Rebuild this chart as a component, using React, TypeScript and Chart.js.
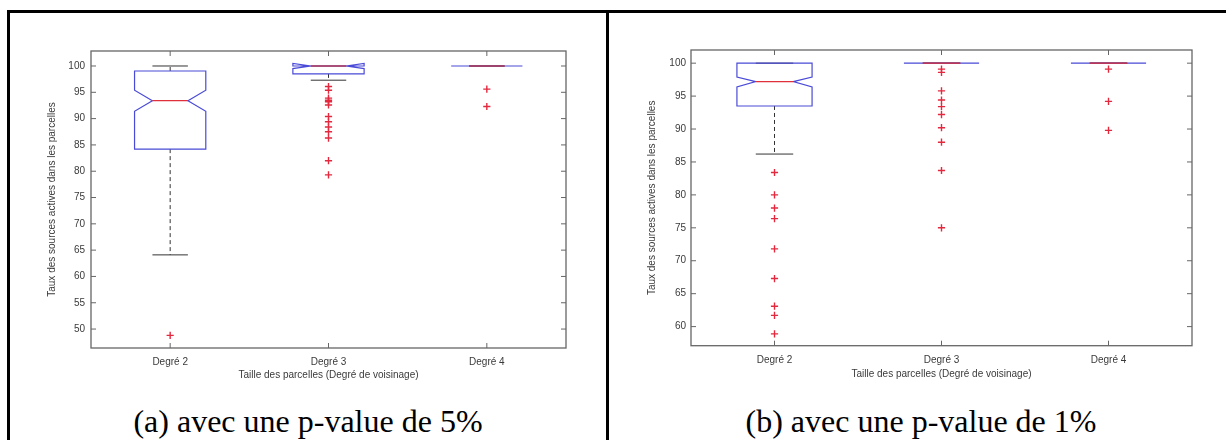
import React, { useEffect, useRef } from 'react';
import { Chart, registerables } from 'chart.js';

Chart.register(...registerables);

// ---------- data ----------
const CATEGORIES = ['Degré 2', 'Degré 3', 'Degré 4'];
const X_TICKS = [1, 2, 3];
const X_TITLE = 'Taille des parcelles (Degré de voisinage)';
const Y_TITLE = 'Taux des sources actives dans les parcelles';

const Y_TICKS_A = [50, 55, 60, 65, 70, 75, 80, 85, 90, 95, 100];
const Y_MIN_A = 46.4;
const Y_MAX_A = 102.85;

const A_Q1 = [84.2, 98.5, 100];
const A_MEDIAN = [93.4, 100, 100];
const A_Q3 = [99.05, 100, 100];
const A_WHISKER_LOW = [64.1, 97.3, 100];
const A_WHISKER_HIGH = [100, 100, 100];
const A_NOTCH_LOW = [91.4, 99.5, 100];
const A_NOTCH_HIGH = [95.4, 100.5, 100];
const A_OUTLIERS_D2 = [48.8];
const A_OUTLIERS_D3 = [96.1, 95.4, 93.9, 93.5, 93.2, 92.6, 90.4, 89.4, 88.4, 87.5, 86.3, 82.0, 79.3];
const A_OUTLIERS_D4 = [95.6, 92.3];
const A_CAPTION = '(a) avec une p-value de 5%';

const Y_TICKS_B = [60, 65, 70, 75, 80, 85, 90, 95, 100];
const Y_MIN_B = 57.1;
const Y_MAX_B = 102.0;

const B_Q1 = [93.5, 100, 100];
const B_MEDIAN = [97.2, 100, 100];
const B_Q3 = [100, 100, 100];
const B_WHISKER_LOW = [86.2, 100, 100];
const B_WHISKER_HIGH = [100, 100, 100];
const B_NOTCH_LOW = [96.4, 100, 100];
const B_NOTCH_HIGH = [97.9, 100, 100];
const B_OUTLIERS_D2 = [83.4, 80.0, 78.0, 76.4, 71.8, 67.3, 63.1, 61.7, 58.9];
const B_OUTLIERS_D3 = [99.1, 98.6, 95.8, 94.4, 93.4, 92.2, 90.2, 88.0, 83.7, 75.0];
const B_OUTLIERS_D4 = [99.1, 94.2, 89.8];
const B_CAPTION = '(b) avec une p-value de 1%';

// ---------- styles ----------
const BOX_HALF = 0.225;
const CAP_HALF = 0.112;
const NOTCH_INNER = 0.5;
const BOX_COLOR = '#4a4ad8';
const MEDIAN_COLOR = '#e0303c';
const WHISKER_COLOR = '#333333';
const OUTLIER_COLOR = 'rgb(228,40,62)';
const AXIS_COLOR = '#666666';
const TEXT_COLOR = '#3a3a3a';
const FONT = "'Liberation Sans', Arial, sans-serif";

const boxPlugin = {
  id: 'boxes',
  beforeDatasetsDraw(chart: any, _args: any, opts: any) {
    const { ctx, scales } = chart;
    const x = scales.x;
    const y = scales.y;
    const s = opts.stats;
    if (!s) return;
    ctx.save();
    for (let i = 0; i < s.q1.length; i++) {
      const xc = x.getPixelForValue(i + 1);
      const L = x.getPixelForValue(i + 1 - BOX_HALF);
      const R = x.getPixelForValue(i + 1 + BOX_HALF);
      const cL = x.getPixelForValue(i + 1 - CAP_HALF);
      const cR = x.getPixelForValue(i + 1 + CAP_HALF);
      const inner = (R - L) / 2 * NOTCH_INNER;
      const yq1 = y.getPixelForValue(s.q1[i]);
      const yq3 = y.getPixelForValue(s.q3[i]);
      const ymed = y.getPixelForValue(s.median[i]);
      const ynl = y.getPixelForValue(s.notchLow[i]);
      const ynh = y.getPixelForValue(s.notchHigh[i]);
      const ywl = y.getPixelForValue(s.whiskerLow[i]);
      const ywh = y.getPixelForValue(s.whiskerHigh[i]);

      // whiskers
      ctx.strokeStyle = WHISKER_COLOR;
      ctx.lineWidth = 1;
      ctx.setLineDash([4, 3]);
      ctx.beginPath();
      if (s.whiskerHigh[i] !== s.q3[i]) {
        ctx.moveTo(xc, yq3);
        ctx.lineTo(xc, ywh);
      }
      if (s.whiskerLow[i] !== s.q1[i]) {
        ctx.moveTo(xc, yq1);
        ctx.lineTo(xc, ywl);
      }
      ctx.stroke();
      ctx.setLineDash([]);
      ctx.beginPath();
      ctx.moveTo(cL, ywh);
      ctx.lineTo(cR, ywh);
      ctx.moveTo(cL, ywl);
      ctx.lineTo(cR, ywl);
      ctx.stroke();

      // notched box
      ctx.strokeStyle = BOX_COLOR;
      ctx.lineWidth = 1.2;
      ctx.beginPath();
      ctx.moveTo(L, yq1);
      ctx.lineTo(L, ynl);
      ctx.lineTo(xc - inner, ymed);
      ctx.lineTo(L, ynh);
      ctx.lineTo(L, yq3);
      ctx.lineTo(R, yq3);
      ctx.lineTo(R, ynh);
      ctx.lineTo(xc + inner, ymed);
      ctx.lineTo(R, ynl);
      ctx.lineTo(R, yq1);
      ctx.closePath();
      ctx.stroke();

      // median
      ctx.strokeStyle = MEDIAN_COLOR;
      ctx.beginPath();
      ctx.moveTo(xc - inner, ymed);
      ctx.lineTo(xc + inner, ymed);
      ctx.stroke();
    }
    ctx.restore();
  },
  afterDraw(chart: any) {
    const { ctx, chartArea, scales } = chart;
    const { left, right, top, bottom } = chartArea;
    ctx.save();
    ctx.strokeStyle = AXIS_COLOR;
    ctx.lineWidth = 1.3;
    ctx.strokeRect(left, top, right - left, bottom - top);
    ctx.lineWidth = 1;
    ctx.beginPath();
    scales.y.ticks.forEach((t: any) => {
      const py = scales.y.getPixelForValue(t.value);
      ctx.moveTo(left, py);
      ctx.lineTo(left + 5, py);
      ctx.moveTo(right, py);
      ctx.lineTo(right - 5, py);
    });
    scales.x.ticks.forEach((t: any) => {
      const px = scales.x.getPixelForValue(t.value);
      ctx.moveTo(px, bottom);
      ctx.lineTo(px, bottom - 5);
      ctx.moveTo(px, top);
      ctx.lineTo(px, top + 5);
    });
    ctx.stroke();
    ctx.restore();
  },
};

type PanelProps = {
  left: number;
  width: number;
  height: number;
  pad: { left: number; top: number; right: number; bottom: number };
  yWidth: number;
  xHeight: number;
  xTickPad: number;
  yTickPad: number;
  yMin: number;
  yMax: number;
  yTicks: number[];
  stats: any;
  outliers: number[][];
};

function BoxPanel(p: PanelProps) {
  const ref = useRef<HTMLCanvasElement | null>(null);
  useEffect(() => {
    if (!ref.current) return;
    const datasets = p.outliers.map((vals, i) => ({
      label: CATEGORIES[i],
      data: vals.map((v) => ({ x: X_TICKS[i], y: v })),
      pointStyle: 'cross',
      radius: 3.6,
      borderWidth: 1.4,
      borderColor: OUTLIER_COLOR,
      backgroundColor: OUTLIER_COLOR,
      showLine: false,
    }));
    const chart = new Chart(ref.current, {
      type: 'scatter',
      data: { datasets },
      options: {
        animation: false,
        responsive: true,
        maintainAspectRatio: false,
        layout: { padding: p.pad },
        plugins: {
          legend: { display: false },
          tooltip: { enabled: false },
          boxes: { stats: p.stats },
        } as any,
        scales: {
          x: {
            type: 'linear',
            min: 0.5,
            max: 3.5,
            afterBuildTicks: (s: any) => {
              s.ticks = X_TICKS.map((v) => ({ value: v }));
            },
            afterFit: (s: any) => {
              s.height = p.xHeight;
            },
            ticks: {
              callback: (v: any) => CATEGORIES[Math.round(Number(v)) - 1] ?? '',
              padding: p.xTickPad,
              maxRotation: 0,
              autoSkip: false,
              color: TEXT_COLOR,
              font: { family: FONT, size: 10 },
            },
            grid: { display: false, drawTicks: false },
            border: { display: false },
            title: {
              display: true,
              text: X_TITLE,
              padding: 0,
              color: TEXT_COLOR,
              font: { family: FONT, size: 10 },
            },
          },
          y: {
            type: 'linear',
            min: p.yMin,
            max: p.yMax,
            afterBuildTicks: (s: any) => {
              s.ticks = p.yTicks.map((v) => ({ value: v }));
            },
            afterFit: (s: any) => {
              s.width = p.yWidth;
            },
            ticks: {
              padding: p.yTickPad,
              color: TEXT_COLOR,
              font: { family: FONT, size: 10 },
            },
            grid: { display: false, drawTicks: false },
            border: { display: false },
            title: {
              display: true,
              text: Y_TITLE,
              padding: 0,
              color: TEXT_COLOR,
              font: { family: FONT, size: 10 },
            },
          },
        },
      } as any,
      plugins: [boxPlugin as any],
    });
    return () => chart.destroy();
  }, []);
  return (
    <div
      style={{
        position: 'absolute',
        left: p.left,
        top: 0,
        width: p.width,
        height: p.height,
      }}
    >
      <canvas ref={ref} />
    </div>
  );
}

const statsA = {
  q1: A_Q1,
  median: A_MEDIAN,
  q3: A_Q3,
  whiskerLow: A_WHISKER_LOW,
  whiskerHigh: A_WHISKER_HIGH,
  notchLow: A_NOTCH_LOW,
  notchHigh: A_NOTCH_HIGH,
};
const statsB = {
  q1: B_Q1,
  median: B_MEDIAN,
  q3: B_Q3,
  whiskerLow: B_WHISKER_LOW,
  whiskerHigh: B_WHISKER_HIGH,
  notchLow: B_NOTCH_LOW,
  notchHigh: B_NOTCH_HIGH,
};

const captionStyle: React.CSSProperties = {
  position: 'absolute',
  top: 403,
  fontFamily: "'Liberation Serif', 'Times New Roman', serif",
  fontSize: 32,
  lineHeight: '36px',
  color: '#000',
  textAlign: 'center',
  whiteSpace: 'nowrap',
};

export default function App() {
  return (
    <div
      style={{
        position: 'absolute',
        left: 0,
        top: 0,
        width: 1226,
        height: 440,
        background: '#fff',
        overflow: 'hidden',
      }}
    >
      <BoxPanel
        left={0}
        width={606}
        height={390}
        pad={{ left: 46, top: 51, right: 40, bottom: 9 }}
        yWidth={45}
        xHeight={33}
        xTickPad={8}
        yTickPad={6}
        yMin={Y_MIN_A}
        yMax={Y_MAX_A}
        yTicks={Y_TICKS_A}
        stats={statsA}
        outliers={[A_OUTLIERS_D2, A_OUTLIERS_D3, A_OUTLIERS_D4]}
      />
      <BoxPanel
        left={610}
        width={616}
        height={390}
        pad={{ left: 36.5, top: 50, right: 34, bottom: 9.5 }}
        yWidth={44.5}
        xHeight={34.8}
        xTickPad={8.5}
        yTickPad={5}
        yMin={Y_MIN_B}
        yMax={Y_MAX_B}
        yTicks={Y_TICKS_B}
        stats={statsB}
        outliers={[B_OUTLIERS_D2, B_OUTLIERS_D3, B_OUTLIERS_D4]}
      />
      <div style={{ ...captionStyle, left: 10, width: 596 }}>{A_CAPTION}</div>
      <div style={{ ...captionStyle, left: 609, width: 624 }}>{B_CAPTION}</div>
      {/* table borders */}
      <div style={{ position: 'absolute', left: 7, top: 10, width: 1219, height: 3, background: '#000' }} />
      <div style={{ position: 'absolute', left: 7, top: 10, width: 3, height: 430, background: '#000' }} />
      <div style={{ position: 'absolute', left: 606, top: 10, width: 3, height: 430, background: '#000' }} />
    </div>
  );
}
